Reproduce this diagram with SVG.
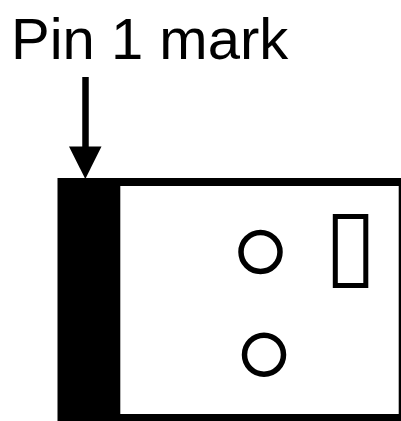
<svg xmlns="http://www.w3.org/2000/svg" width="401" height="421" viewBox="0 0 401 421">
<style>.o{fill:none;stroke:#000}</style>
<rect width="401" height="421" fill="#fff"/>
<text x="11" y="58.5" font-family="Liberation Sans, Arial, sans-serif" font-size="58" fill="#000">Pin 1 mark</text>
<g id="connectors">
<line x1="85.5" y1="77" x2="85.5" y2="150" stroke="#000" stroke-width="6.5"/>
<polygon points="69,146.5 101.5,146.5 85.3,179" fill="#000"/>
</g>
<g id="package">
<path d="M57.5 178H401V421H57.5Z" fill="#000"/>
<rect x="120.3" y="186" width="278.4" height="228" fill="#fff"/>
</g>
<g id="pad"><rect x="335.3" y="216.5" width="30.5" height="69" class="o" stroke-width="5"/></g>
<g id="hole1"><circle cx="260.5" cy="252" r="19.5" class="o" stroke-width="5.5"/></g>
<g id="hole2"><circle cx="264" cy="354.7" r="19.5" class="o" stroke-width="5.5"/></g>
</svg>
